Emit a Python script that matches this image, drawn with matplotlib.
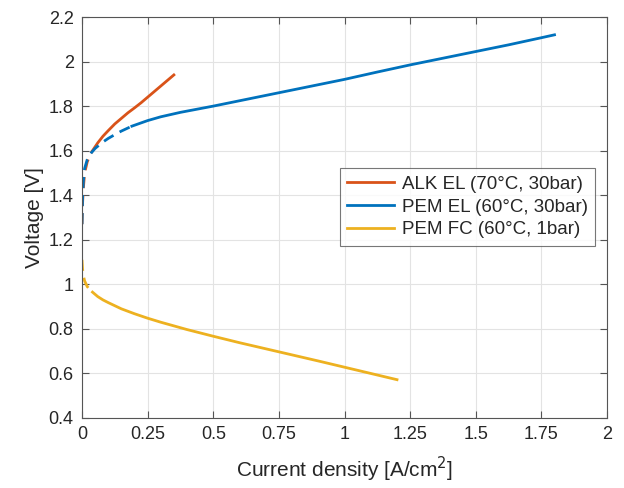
import matplotlib
matplotlib.use("Agg")
import matplotlib.pyplot as plt

plt.rcParams['font.family'] = ['Liberation Sans', 'DejaVu Sans']

# ALK EL (70°C, 30bar)
alk_dash_x = [0.0, 0.002, 0.005, 0.01, 0.02, 0.03, 0.04]
alk_dash_y = [1.27, 1.36, 1.43, 1.50, 1.55, 1.58, 1.60]
alk_x = [0.04, 0.06, 0.08, 0.10, 0.125, 0.15, 0.175, 0.20, 0.225, 0.25, 0.275, 0.30, 0.325, 0.35]
alk_y = [1.60, 1.635, 1.665, 1.69, 1.72, 1.745, 1.77, 1.792, 1.815, 1.84, 1.865, 1.89, 1.915, 1.94]

# PEM EL (60°C, 30bar)
pem_dash_x = [0.0, 0.002, 0.005, 0.01, 0.02, 0.035, 0.05, 0.075, 0.10, 0.125, 0.15, 0.19]
pem_dash_y = [1.27, 1.38, 1.46, 1.52, 1.56, 1.59, 1.61, 1.635, 1.655, 1.672, 1.688, 1.71]
pem_x = [0.19, 0.25, 0.30, 0.375, 0.5, 0.625, 0.75, 0.875, 1.0, 1.125, 1.25, 1.375, 1.5, 1.625, 1.75, 1.8]
pem_y = [1.71, 1.735, 1.752, 1.772, 1.80, 1.83, 1.86, 1.89, 1.92, 1.953, 1.985, 2.015, 2.045, 2.075, 2.107, 2.12]

# PEM FC (60°C, 1bar)
fc_dash_x = [0.0, 0.002, 0.005, 0.01, 0.02, 0.03, 0.04]
fc_dash_y = [1.11, 1.07, 1.04, 1.015, 0.99, 0.975, 0.965]
fc_x = [0.04, 0.06, 0.08, 0.10, 0.15, 0.20, 0.25, 0.30, 0.40, 0.50, 0.60, 0.75, 0.90, 1.0, 1.1, 1.2]
fc_y = [0.965, 0.945, 0.93, 0.918, 0.89, 0.868, 0.848, 0.83, 0.797, 0.767, 0.738, 0.697, 0.656, 0.628, 0.60, 0.572]

labels = ['ALK EL (70°C, 30bar)', 'PEM EL (60°C, 30bar)', 'PEM FC (60°C, 1bar)']
colors = ['#D95319', '#0072BD', '#EDB120']

xticks = [0, 0.25, 0.5, 0.75, 1, 1.25, 1.5, 1.75, 2]
xticklabels = ['0', '0.25', '0.5', '0.75', '1', '1.25', '1.5', '1.75', '2']
yticks = [0.4, 0.6, 0.8, 1.0, 1.2, 1.4, 1.6, 1.8, 2.0, 2.2]
yticklabels = ['0.4', '0.6', '0.8', '1', '1.2', '1.4', '1.6', '1.8', '2', '2.2']

fig = plt.figure(figsize=(6.24, 4.88), dpi=100)
ax = fig.add_axes([82/624, 70/488, (607-82)/624, (418-17)/488])

series = [(alk_dash_x, alk_dash_y, alk_x, alk_y),
          (pem_dash_x, pem_dash_y, pem_x, pem_y),
          (fc_dash_x, fc_dash_y, fc_x, fc_y)]
for (dx, dy, sx, sy), c, lab in zip(series, colors, labels):
    ax.plot(dx, dy, color=c, lw=2.0, linestyle=(0, (4, 2.5)))
    ax.plot(sx, sy, color=c, lw=2.0, label=lab)

ax.set_xlim(0, 2)
ax.set_ylim(0.4, 2.2)
ax.set_xticks(xticks)
ax.set_xticklabels(xticklabels)
ax.set_yticks(yticks)
ax.set_yticklabels(yticklabels)
ax.grid(True, color='#e3e3e3', lw=0.8)
ax.set_axisbelow(True)
ax.tick_params(direction='in', top=True, right=True, length=5, width=0.8,
               color='#555555', labelsize=13, labelcolor='#262626', pad=6)
for s in ax.spines.values():
    s.set_color('#555555')
    s.set_linewidth(0.8)

ax.set_xlabel('Current density [A/cm$^2$]', fontsize=15, color='#262626', labelpad=8)
ax.set_ylabel('Voltage [V]', fontsize=15, color='#262626', labelpad=3)

leg = ax.legend(loc='upper left', bbox_to_anchor=(0.491, 0.623), fontsize=13.5,
                frameon=True, fancybox=False, edgecolor='#555555', handlelength=2.5,
                borderpad=0.4, labelspacing=0.3, handletextpad=0.4, borderaxespad=0)
leg.get_frame().set_linewidth(0.8)
for t in leg.get_texts():
    t.set_color('#262626')

fig.savefig('out.png', dpi=100)
